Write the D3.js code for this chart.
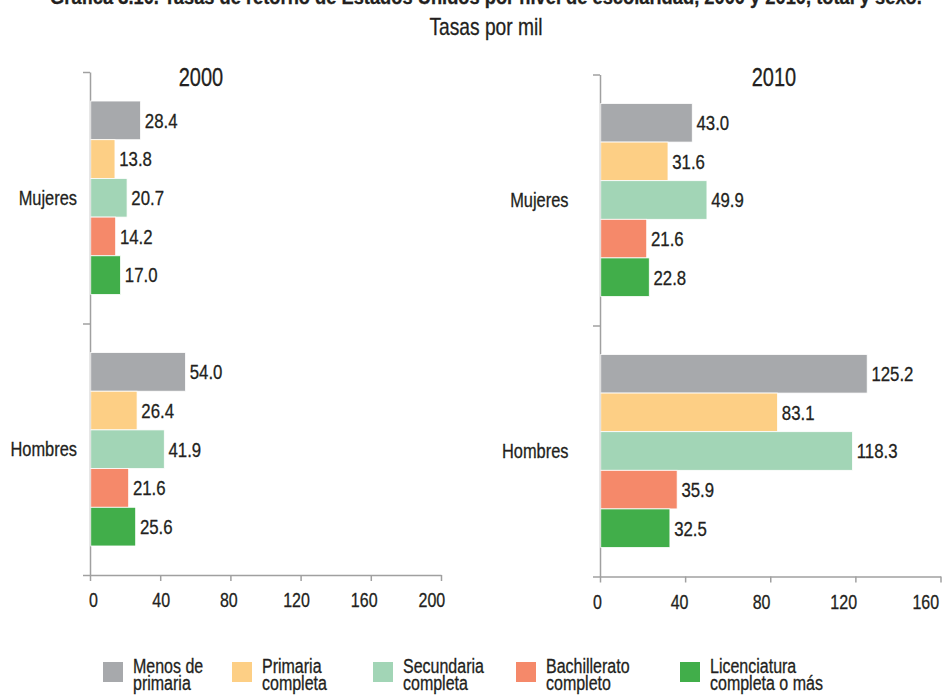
<!DOCTYPE html>
<html>
<head>
<meta charset="utf-8">
<script src="https://cdn.jsdelivr.net/npm/d3@7"></script>
<style>
  html, body { margin: 0; padding: 0; background: #fff; }
  svg { display: block; font-family: "Liberation Sans", Arial, sans-serif; }
  svg text { fill: #231f20; stroke: #231f20; stroke-width: 0.3px; }
  .axis path, .axis line { stroke: #a0a0a0; stroke-width: 1.5; }
  .axis text { font-size: 20px; }
</style>
</head>
<body>
<svg id="chart" width="944" height="696"></svg>
<script>
// Return rates by schooling level (per thousand), United States
const categories = ["Mujeres", "Hombres"];
const series = ["Menos de primaria", "Primaria completa", "Secundaria completa", "Bachillerato completo", "Licenciatura completa o más"];
const seriesLines = [["Menos de", "primaria"], ["Primaria", "completa"], ["Secundaria", "completa"], ["Bachillerato", "completo"], ["Licenciatura", "completa o más"]];
const colors = ["#a7a9ac", "#fdcf85", "#a2d5b6", "#f5896a", "#41ae4a"];

const mujeres2000 = [28.4, 13.8, 20.7, 14.2, 17.0];
const hombres2000 = [54.0, 26.4, 41.9, 21.6, 25.6];
const mujeres2010 = [43.0, 31.6, 49.9, 21.6, 22.8];
const hombres2010 = [125.2, 83.1, 118.3, 35.9, 32.5];

const ticks2000 = [0, 40, 80, 120, 160, 200];
const ticks2010 = [0, 40, 80, 120, 160];

const NARROW = 0.8; // horizontal squeeze giving a condensed face

const svg = d3.select("#chart");
const fmt = d3.format(".1f");

// Title
const title = svg.append("g").attr("text-anchor", "middle");
title.append("text").attr("x", 486).attr("y", 4)
  .attr("font-size", 20).attr("font-weight", "bold")
  .attr("data-squeeze", 0.915)
  .text("Gráfica 3.10. Tasas de retorno de Estados Unidos por nivel de escolaridad, 2000 y 2010, total y sexo.");
title.append("text").attr("x", 486).attr("y", 35)
  .attr("font-size", 24)
  .text("Tasas por mil");

const panels = [
  { year: "2000", values: [mujeres2000, hombres2000], ticks: ticks2000,
    x: [90, 441], y: [72, 575], titleX: 201, labelX: 77, tickShift: 3 },
  { year: "2010", values: [mujeres2010, hombres2010], ticks: ticks2010,
    x: [600, 940.5], y: [74.5, 576.5], titleX: 774, labelX: 568.5, tickShift: -3 }
];

panels.forEach(p => {
  const g = svg.append("g");
  const x = d3.scaleLinear().domain([0, d3.max(p.ticks)]).range(p.x);
  const y0 = d3.scaleBand().domain(categories).range(p.y).padding(0);
  const y1 = d3.scaleBand().domain(series).range([0, y0.bandwidth()])
    .paddingInner(0).paddingOuter(0.75);

  // category boundary ticks on the vertical axis
  const yEdge = d3.scaleLinear().domain([0, categories.length]).range(p.y);
  g.append("g").attr("class", "axis")
    .attr("transform", `translate(${p.x[0]},0)`)
    .call(d3.axisLeft(yEdge).tickValues(d3.range(categories.length + 1))
      .tickFormat("").tickSize(7).tickSizeOuter(0));

  const xAxis = g.append("g").attr("class", "axis")
    .attr("transform", `translate(0,${p.y[1]})`)
    .call(d3.axisBottom(x).tickValues(p.ticks).tickFormat(d3.format("d"))
      .tickSize(6).tickSizeOuter(0).tickPadding(12));
  // tick labels sit on a slightly tighter spacing than the ticks themselves
  xAxis.selectAll(".tick text")
    .attr("x", d => p.tickShift - 0.036 * (x(d) - x(0)));

  categories.forEach((c, ci) => {
    const grp = g.append("g").attr("transform", `translate(0,${y0(c)})`);
    const vals = p.values[ci];
    grp.selectAll("rect").data(vals).join("rect")
      .attr("x", x(0) + 0.75)
      .attr("y", (d, i) => y1(series[i]))
      .attr("width", d => x(d) - x(0))
      .attr("height", y1.bandwidth())
      .attr("fill", (d, i) => colors[i])
      .attr("stroke", "#fff").attr("stroke-width", 0.8);
    grp.selectAll("text.val").data(vals).join("text")
      .attr("class", "val")
      .attr("x", d => x(d) + 5)
      .attr("y", (d, i) => y1(series[i]) + y1.bandwidth() / 2)
      .attr("dy", "0.35em")
      .attr("font-size", 21)
      .text(d => fmt(d));
  });

  g.selectAll("text.cat").data(categories).join("text")
    .attr("class", "cat")
    .attr("x", p.labelX)
    .attr("y", d => y0(d) + y0.bandwidth() / 2)
    .attr("dy", "0.35em")
    .attr("text-anchor", "end")
    .attr("font-size", 20.5)
    .text(d => d);

  g.append("text").attr("x", p.titleX).attr("y", 86)
    .attr("text-anchor", "middle").attr("font-size", 25)
    .text(p.year);
});

// Legend
const legendX = [103, 232, 373, 516, 680];
const legend = svg.append("g");
series.forEach((s, i) => {
  const item = legend.append("g").attr("transform", `translate(${legendX[i]},662)`);
  item.append("rect").attr("width", 20).attr("height", 20).attr("fill", colors[i]);
  item.append("text").attr("x", 30).attr("y", 11).attr("font-size", 20)
    .selectAll("tspan").data(seriesLines[i]).join("tspan")
    .attr("x", 30).attr("dy", (d, j) => j === 0 ? 0 : 17)
    .text(d => d);
});

// Condense every label horizontally around its own anchor point
svg.selectAll("text").each(function () {
  const ax = +this.getAttribute("x") || 0;
  const k = +this.getAttribute("data-squeeze") || NARROW;
  d3.select(this).attr("transform",
    `translate(${ax},0) scale(${k},1) translate(${-ax},0)`);
});
</script>
</body>
</html>
